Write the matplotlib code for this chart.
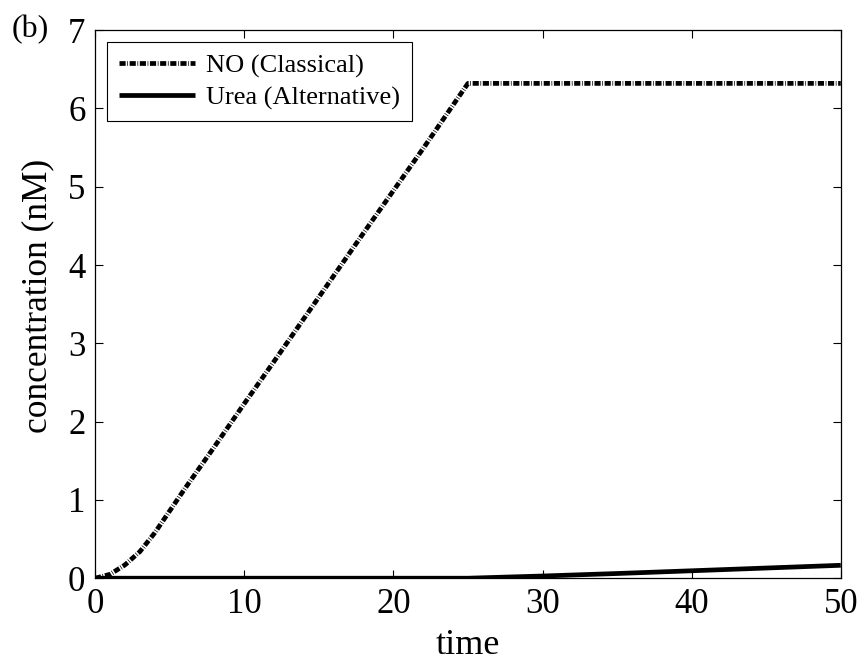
import numpy as np
import matplotlib.pyplot as plt

plt.rcParams['font.family'] = ['Liberation Serif', 'DejaVu Serif']

# values
t_no = [0, 1, 2, 3, 4, 5, 6, 8, 10, 12, 15, 18, 20, 22, 25, 30, 35, 40, 45, 50]
no_classical = [0, 0.05, 0.17, 0.34, 0.58, 0.86, 1.14, 1.68, 2.23, 2.77, 3.59, 4.41, 4.95, 5.49, 6.32,
                6.32, 6.32, 6.32, 6.32, 6.32]

t_urea = [0, 10, 20, 25, 30, 35, 40, 45, 50]
urea_alt = [0, 0, 0, 0.0, 0.028, 0.06, 0.095, 0.13, 0.165]

fig = plt.figure(figsize=(8.65, 6.7), dpi=100)
ax = fig.add_axes([0.110, 0.137, 0.862, 0.818])

ax.plot(t_no, no_classical, color="k", lw=3.4, dashes=(1.3, 0.35, 0.15, 0.35),
        dash_capstyle="butt", label="NO (Classical)")
ax.plot(t_urea, urea_alt, color="k", lw=3.4, solid_capstyle="butt", label="Urea (Alternative)")

ax.set_xlim(0, 50)
ax.set_ylim(0, 7)
ax.set_xticks(range(0, 51, 10))
ax.set_yticks(range(0, 8))
ax.tick_params(direction="in", top=True, right=True, length=6, width=0.8, labelsize=25, pad=7)
for s in ax.spines.values():
    s.set_linewidth(0.9)

ax.set_xlabel("time", fontsize=26, labelpad=6)
ax.set_ylabel("concentration (nM)", fontsize=25.5, labelpad=10)
ax.yaxis.label.set_y(0.515)

leg = ax.legend(loc="upper left", fontsize=19, handlelength=2.9, fancybox=False,
                framealpha=1, edgecolor="k", borderaxespad=0.45, handletextpad=0.4,
                labelspacing=0.3, borderpad=0.45)
leg.get_frame().set_linewidth(0.8)

fig.text(0.014, 0.945, "(b)", fontsize=23)

fig.savefig("out.png", dpi=100)
